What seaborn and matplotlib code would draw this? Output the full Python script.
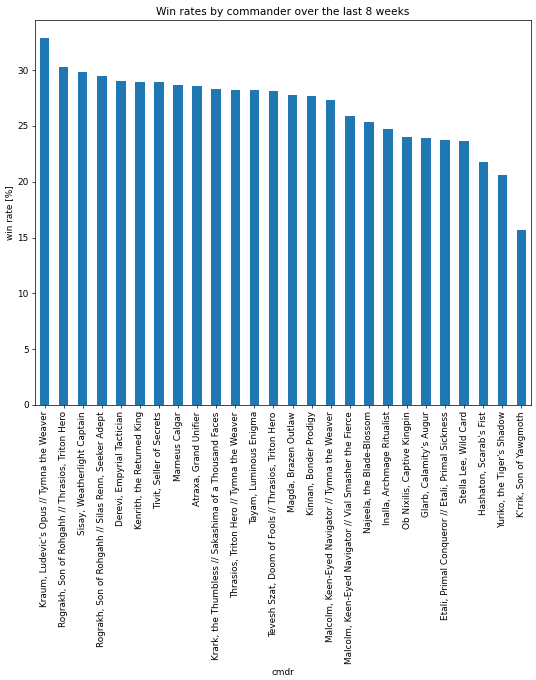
import numpy as np
import pandas as pd
import matplotlib
matplotlib.use("Agg")
import matplotlib.pyplot as plt
import seaborn as sns

# commanders, sorted by win rate
commanders = [
    "Kraum, Ludevic's Opus // Tymna the Weaver",
    "Rograkh, Son of Rohgahh // Thrasios, Triton Hero",
    "Sisay, Weatherlight Captain",
    "Rograkh, Son of Rohgahh // Silas Renn, Seeker Adept",
    "Derevi, Empyrial Tactician",
    "Kenrith, the Returned King",
    "Tivit, Seller of Secrets",
    "Marneus Calgar",
    "Atraxa, Grand Unifier",
    "Krark, the Thumbless // Sakashima of a Thousand Faces",
    "Thrasios, Triton Hero // Tymna the Weaver",
    "Tayam, Luminous Enigma",
    "Tevesh Szat, Doom of Fools // Thrasios, Triton Hero",
    "Magda, Brazen Outlaw",
    "Kinnan, Bonder Prodigy",
    "Malcolm, Keen-Eyed Navigator // Tymna the Weaver",
    "Malcolm, Keen-Eyed Navigator // Vial Smasher the Fierce",
    "Najeela, the Blade-Blossom",
    "Inalla, Archmage Ritualist",
    "Ob Nixilis, Captive Kingpin",
    "Glarb, Calamity's Augur",
    "Etali, Primal Conqueror // Etali, Primal Sickness",
    "Stella Lee, Wild Card",
    "Hashaton, Scarab's Fist",
    "Yuriko, the Tiger's Shadow",
    "K'rrik, Son of Yawgmoth",
]
win_rates = [
    32.85, 30.32, 29.79, 29.46, 29.07, 28.98, 28.98, 28.65, 28.56, 28.35,
    28.26, 28.18, 28.11, 27.79, 27.64, 27.34, 25.88, 25.31, 24.69, 23.97,
    23.91, 23.73, 23.64, 21.73, 20.57, 15.71,
]

df = pd.DataFrame({"cmdr": commanders, "win rate [%]": win_rates})

DPI = 64
fig, ax = plt.subplots(figsize=(536 / DPI, 680 / DPI), dpi=DPI)
fig.subplots_adjust(left=35 / 536, right=531 / 536, top=1 - 20 / 680, bottom=1 - 405 / 680)

sns.barplot(data=df, x="cmdr", y="win rate [%]", color="#1f77b4",
            saturation=1, width=0.5, ax=ax)

ax.set_xlim(-0.5, len(commanders) - 0.5)
ax.set_title("Win rates by commander over the last 8 weeks")
ax.set_xlabel("cmdr")
ax.set_ylabel("win rate [%]")
plt.setp(ax.get_xticklabels(), rotation=90)

fig.savefig("out.png", dpi=DPI)
